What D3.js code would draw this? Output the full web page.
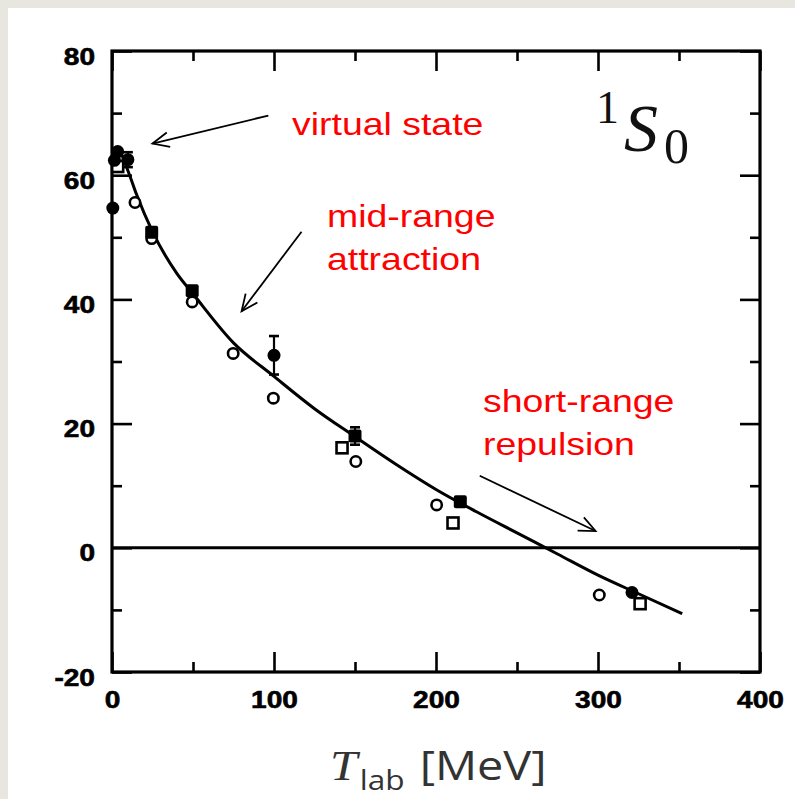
<!DOCTYPE html>
<html>
<head>
<meta charset="utf-8">
<script src="https://cdn.jsdelivr.net/npm/d3@7"></script>
<style>
  html, body { margin: 0; padding: 0; background: #e8e7df; }
  svg { display: block; }
</style>
</head>
<body>
<svg id="chart" width="795" height="799"></svg>
<script>
// ---- data: 1S0 phase shift (degrees) vs lab energy (MeV) ----
const curveT     = [1, 3, 5, 10, 15, 25, 40, 50, 75, 100, 125, 150, 175, 200, 225, 250, 275, 300, 325, 352];
const curveDelta = [62.0, 63.6, 63.5, 60.6, 57.0, 50.9, 44.2, 40.9, 33.0, 27.6, 22.4, 17.9, 13.5, 9.4, 5.8, 2.4, -1.0, -4.4, -7.4, -10.6];

// filled circles: [T, delta, error]
const filledCircles = [[0.5, 54.7, 0], [1.5, 62.4, 0], [3.5, 63.8, 0], [9.8, 62.5, 1.2], [100, 31.0, 3.1], [321, -7.2, 0]];
// filled squares: [T, delta, error]
const filledSquares = [[24.5, 50.8, 0], [49.5, 41.4, 0], [150, 18.0, 1.4], [215, 7.4, 0]];
// open circles: [T, delta]
const openCircles = [[14.2, 55.6], [24.5, 49.8], [49.5, 39.6], [74.8, 31.3], [99.6, 24.1], [150.5, 13.9], [200.4, 6.9], [300.8, -7.6]];
// open squares: [T, delta]
const openSquares = [[3.5, 61.4], [142, 16.1], [210.5, 4.0], [326, -9.0]];

const xMajorTicks = [0, 100, 200, 300, 400];
const xMinorTicks = [50, 150, 250, 350];
const yMajorTicks = [-20, 0, 20, 40, 60, 80];
const yMinorTicks = [-10, 10, 30, 50, 70];

const annotations = [
  { lines: ["virtual state"], x: 292, y: 135 },
  { lines: ["mid-range", "attraction"], x: 327, y: 227 },
  { lines: ["short-range", "repulsion"], x: 483, y: 412 }
];
// arrows in data coordinates: [fromT, fromDelta, toT, toDelta]
const arrows = [
  [96.5, 69.6, 25.0, 65.1],
  [117, 50.9, 80.0, 38.1],
  [227, 11.6, 298.5, 2.7]
];

// ---- layout ----
const svg = d3.select("#chart");
const x = d3.scaleLinear().domain([0, 400]).range([112, 760]);
const y = d3.scaleLinear().domain([-20, 80]).range([672, 51]);
const TXT_SX = 1.17;
const plain = d => String(d);   // keep the ASCII hyphen on negatives

// page panel
svg.append("rect").attr("x", 8).attr("y", 8).attr("width", 787).attr("height", 791).attr("fill", "#ffffff");

const ink = "#000";

// frame axes with inward ticks
function styleAxis(g) {
  g.selectAll(".domain").remove();
  g.selectAll(".tick line").attr("stroke", ink).attr("stroke-width", 2.6);
}
function styleLabels(sel) {
  sel.attr("font-family", "Liberation Sans, Arial, sans-serif").attr("font-weight", "bold")
    .attr("font-size", 24).attr("fill", ink).attr("stroke", ink).attr("stroke-width", 0.6);
}
const majorLen = 20, minorLen = 10;

// bottom
svg.append("g").attr("transform", `translate(0,${y(-20)})`)
  .call(d3.axisBottom(x).tickValues(xMajorTicks).tickSize(-majorLen).tickFormat(plain))
  .call(styleAxis)
  .call(g => g.selectAll(".tick text").call(styleLabels)
    .attr("y", 0).attr("dy", 0)
    .attr("transform", `translate(0,36) scale(${TXT_SX},1)`));
svg.append("g").attr("transform", `translate(0,${y(-20)})`)
  .call(d3.axisBottom(x).tickValues(xMinorTicks).tickSize(-minorLen).tickFormat(""))
  .call(styleAxis);
// top
svg.append("g").attr("transform", `translate(0,${y(80)})`)
  .call(d3.axisTop(x).tickValues(xMajorTicks).tickSize(-majorLen).tickFormat(""))
  .call(styleAxis);
svg.append("g").attr("transform", `translate(0,${y(80)})`)
  .call(d3.axisTop(x).tickValues(xMinorTicks).tickSize(-minorLen).tickFormat(""))
  .call(styleAxis);
// left
svg.append("g").attr("transform", `translate(${x(0)},0)`)
  .call(d3.axisLeft(y).tickValues(yMajorTicks).tickSize(-majorLen).tickFormat(plain))
  .call(styleAxis)
  .call(g => g.selectAll(".tick text").call(styleLabels)
    .attr("x", 0).attr("dy", 0).attr("text-anchor", "end")
    .attr("transform", `translate(-17,13) scale(${TXT_SX},1)`));
svg.append("g").attr("transform", `translate(${x(0)},0)`)
  .call(d3.axisLeft(y).tickValues(yMinorTicks).tickSize(-minorLen).tickFormat(""))
  .call(styleAxis);
// right
svg.append("g").attr("transform", `translate(${x(400)},0)`)
  .call(d3.axisRight(y).tickValues(yMajorTicks).tickSize(-majorLen).tickFormat(""))
  .call(styleAxis);
svg.append("g").attr("transform", `translate(${x(400)},0)`)
  .call(d3.axisRight(y).tickValues(yMinorTicks).tickSize(-minorLen).tickFormat(""))
  .call(styleAxis);

// frame box
svg.append("rect")
  .attr("x", x(0)).attr("y", y(80))
  .attr("width", x(400) - x(0)).attr("height", y(-20) - y(80))
  .attr("fill", "none").attr("stroke", ink).attr("stroke-width", 3.2);

// zero line
svg.append("line")
  .attr("x1", x(0)).attr("x2", x(400)).attr("y1", y(0)).attr("y2", y(0))
  .attr("stroke", ink).attr("stroke-width", 3);

// theory curve
const line = d3.line().x(d => x(d[0])).y(d => y(d[1])).curve(d3.curveMonotoneX);
svg.append("path")
  .datum(curveT.map((t, i) => [t, curveDelta[i]]))
  .attr("d", line)
  .attr("fill", "none").attr("stroke", ink).attr("stroke-width", 3);

// error bars
const withErr = filledCircles.concat(filledSquares).filter(d => d[2] > 0);
const eb = svg.append("g").attr("stroke", ink).attr("stroke-width", 2.2);
withErr.forEach(d => {
  eb.append("line").attr("x1", x(d[0])).attr("x2", x(d[0])).attr("y1", y(d[1] - d[2])).attr("y2", y(d[1] + d[2]));
  [d[1] - d[2], d[1] + d[2]].forEach(v =>
    eb.append("line").attr("x1", x(d[0]) - 5).attr("x2", x(d[0]) + 5).attr("y1", y(v)).attr("y2", y(v)).attr("stroke-width", 2.6));
});

// markers
svg.append("g").selectAll("circle").data(openCircles).join("circle")
  .attr("cx", d => x(d[0])).attr("cy", d => y(d[1])).attr("r", 5.2)
  .attr("fill", "#fff").attr("stroke", ink).attr("stroke-width", 2.6);
svg.append("g").selectAll("rect").data(openSquares).join("rect")
  .attr("x", d => x(d[0]) - 5.5).attr("y", d => y(d[1]) - 5.5).attr("width", 11).attr("height", 11)
  .attr("fill", "#fff").attr("stroke", ink).attr("stroke-width", 2.6);
svg.append("g").selectAll("rect").data(filledSquares).join("rect")
  .attr("x", d => x(d[0]) - 6.5).attr("y", d => y(d[1]) - 6.5).attr("width", 13).attr("height", 13)
  .attr("rx", 2).attr("fill", ink);
svg.append("g").selectAll("circle").data(filledCircles).join("circle")
  .attr("cx", d => x(d[0])).attr("cy", d => y(d[1])).attr("r", 6.5).attr("fill", ink);

// red annotations
annotations.forEach(a => {
  a.lines.forEach((s, i) => {
    svg.append("text")
      .attr("transform", `translate(${a.x},${a.y + i * 43}) scale(${TXT_SX},1)`)
      .attr("font-family", "Liberation Sans, Arial, sans-serif")
      .attr("font-size", 32).attr("fill", "#ff0000")
      .text(s);
  });
});

// arrows with open heads
const ag = svg.append("g").attr("stroke", ink).attr("stroke-width", 1.8).attr("fill", "none");
arrows.forEach(a => {
  const x1 = x(a[0]), y1 = y(a[1]), x2 = x(a[2]), y2 = y(a[3]);
  ag.append("line").attr("x1", x1).attr("y1", y1).attr("x2", x2).attr("y2", y2);
  const ang = Math.atan2(y2 - y1, x2 - x1), L = 18, w = 0.42;
  ag.append("path").attr("d",
    `M${x2 - L * Math.cos(ang - w)},${y2 - L * Math.sin(ang - w)} L${x2},${y2} L${x2 - L * Math.cos(ang + w)},${y2 - L * Math.sin(ang + w)}`);
});

// partial-wave label 1S0
const lab = svg.append("g").attr("fill", "#111");
lab.append("text").attr("x", 596).attr("y", 123)
  .attr("font-family", "Liberation Serif, serif").attr("font-size", 46).text("1");
lab.append("text").attr("x", 624).attr("y", 151)
  .attr("font-family", "Liberation Serif, serif").attr("font-style", "italic").attr("font-size", 68).text("S");
lab.append("text").attr("x", 664).attr("y", 163)
  .attr("font-family", "Liberation Serif, serif").attr("font-size", 50).text("0");

// x-axis title: T_lab [MeV]
const xt = svg.append("text").attr("transform", `translate(330,780) scale(${TXT_SX},1)`).attr("fill", "#333");
xt.append("tspan").attr("font-family", "Liberation Serif, serif").attr("font-style", "italic").attr("font-size", 42).text("T");
xt.append("tspan").attr("font-family", "Open Sans, sans-serif").attr("font-size", 27).attr("dy", 10).attr("dx", 2).text("lab");
xt.append("tspan").attr("font-family", "Open Sans, sans-serif").attr("font-size", 40).attr("dy", -10).attr("dx", 13).text("[MeV]");
</script>
</body>
</html>
